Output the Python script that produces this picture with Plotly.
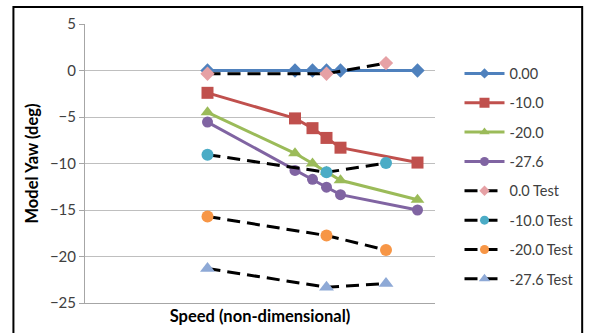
import plotly.graph_objects as go

# Model speeds (non-dimensional) for the computed runs and the tank tests
speed_model = [0.35, 0.60, 0.65, 0.69, 0.73, 0.95]
speed_test = [0.35, 0.69, 0.86]

# Computed model yaw (deg) per case
yaw_0 = [0.0, 0.0, 0.0, 0.0, 0.0, 0.0]
yaw_m10 = [-2.4, -5.15, -6.2, -7.25, -8.3, -9.9]
yaw_m20 = [-4.5, -8.9, -10.0, -10.9, -11.8, -13.9]
yaw_m276 = [-5.55, -10.75, -11.7, -12.55, -13.35, -15.0]

# Measured yaw (deg) from the tests
test_0 = [-0.35, -0.35, 0.8]
test_m10 = [-9.05, -10.95, -9.95]
test_m20 = [-15.7, -17.75, -19.3]
test_m276 = [-21.3, -23.3, -22.9]

y_ticks = [5, 0, -5, -10, -15, -20, -25]

FONT = "Lato, 'Open Sans', sans-serif"

fig = go.Figure()

solid = [
    ("0.00", yaw_0, "#4F81BD", "diamond", 11, 8),
    ("-10.0", yaw_m10, "#C0504D", "square", 12, 10),
    ("-20.0", yaw_m20, "#9BBB59", "triangle-up", 12, 9),
    ("-27.6", yaw_m276, "#8064A2", "circle", 11, 9),
]
dashed = [
    ("0.0 Test", test_0, "#E6A1A5", "diamond", 11, 8),
    ("-10.0 Test", test_m10, "#4BACC6", "circle", 12, 9),
    ("-20.0 Test", test_m20, "#F79646", "circle", 12, 9),
    ("-27.6 Test", test_m276, "#8EA9D6", "triangle-up", 13, 10),
]

DASH = "13px,7px"


def add_series(name, xs, ys, line, sym, size, legend_size, color):
    # plotted series (legend handled separately with smaller markers)
    fig.add_trace(go.Scatter(
        x=xs, y=ys, name=name, legendgroup=name, showlegend=False,
        mode="lines+markers", line=line,
        marker=dict(symbol=sym, size=size, color=color),
    ))
    # legend entry
    fig.add_trace(go.Scatter(
        x=[None], y=[None], name=name, legendgroup=name, showlegend=True,
        mode="lines+markers", line=line,
        marker=dict(symbol=sym, size=legend_size, color=color),
    ))


for name, ys, color, sym, size, lsize in solid:
    add_series(name, speed_model, ys, dict(color=color, width=3),
               sym, size, lsize, color)

for name, ys, color, sym, size, lsize in dashed:
    add_series(name, speed_test, ys, dict(color="black", width=3, dash=DASH),
               sym, size, lsize, color)

# Outer chart border
fig.add_shape(type="rect", xref="paper", yref="paper",
              x0=-0.2045, x1=1.4205, y0=-0.15, y1=1.061,
              line=dict(color="black", width=2), fillcolor="rgba(0,0,0,0)")

fig.update_layout(
    width=591, height=333,
    margin=dict(l=85, r=154, t=24, b=30),
    paper_bgcolor="white", plot_bgcolor="white",
    font=dict(family=FONT, size=14, color="#404040"),
    showlegend=True,
    legend=dict(
        x=1.07, y=0.88, xanchor="left", yanchor="top",
        font=dict(family=FONT, size=14.5, color="#404040"),
        tracegroupgap=7.5, itemwidth=40,
        bgcolor="rgba(0,0,0,0)",
    ),
    xaxis=dict(
        range=[0, 1], showgrid=False, zeroline=False,
        showticklabels=False, ticks="",
        showline=True, linecolor="#A6A6A6", linewidth=1,
        title=dict(text="<b>Speed (non-dimensional)</b>",
                   font=dict(family=FONT, size=16.5, color="black"),
                   standoff=7),
    ),
    yaxis=dict(
        range=[-25, 5], tickvals=y_ticks,
        showgrid=True, gridcolor="#BFBFBF", gridwidth=1,
        zeroline=False,
        showline=True, linecolor="#A6A6A6", linewidth=1,
        ticks="outside", ticklen=5, tickcolor="#A6A6A6",
        tickfont=dict(family=FONT, size=15, color="#404040"),
        title=dict(text="<b>Model Yaw (deg)</b>",
                   font=dict(family=FONT, size=16.5, color="black"),
                   standoff=7),
    ),
)

fig.write_html("out.html")
